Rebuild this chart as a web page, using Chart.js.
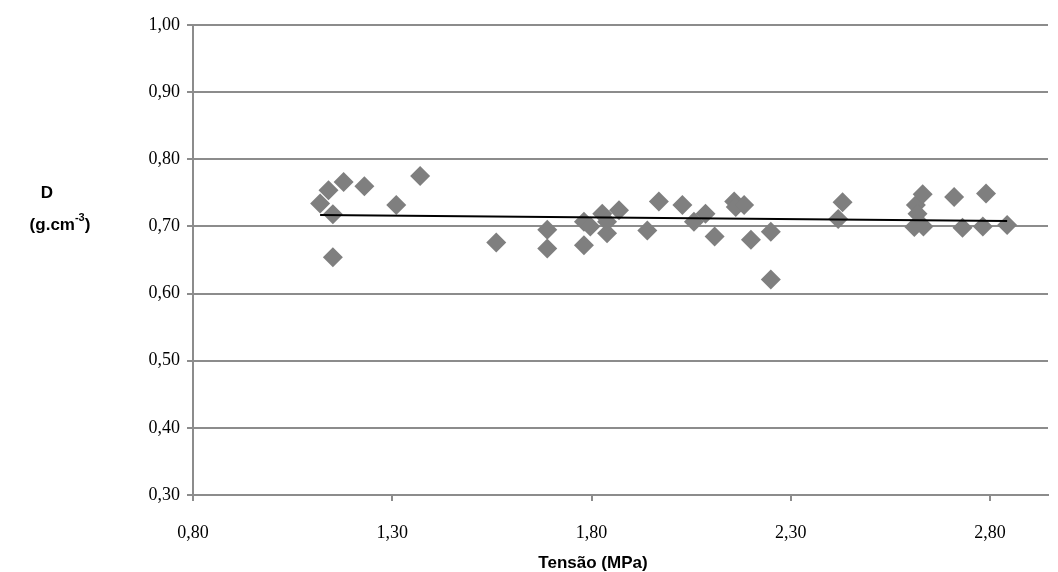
<!DOCTYPE html>
<html>
<head>
<meta charset="utf-8">
<script src="https://cdn.jsdelivr.net/npm/chart.js@4/dist/chart.umd.min.js"></script>
<style>
  html, body { margin: 0; padding: 0; background: #ffffff; overflow: hidden; }
  #wrap { width: 1058px; height: 572px; position: relative; }
  #c { display: block; }
</style>
</head>
<body>
<div id="wrap"><canvas id="c" width="1058" height="572"></canvas></div>
<script>
// Data
const xValues = [1.119, 1.140, 1.178, 1.230, 1.151, 1.151, 1.310, 1.370, 1.561, 1.689,
                 1.689, 1.781, 1.781, 1.797, 1.827, 1.839, 1.839, 1.869, 1.940, 1.969,
                 2.028, 2.057, 2.086, 2.109, 2.158, 2.162, 2.183, 2.200, 2.250, 2.250,
                 2.419, 2.430, 2.610, 2.614, 2.618, 2.631, 2.633, 2.710, 2.731, 2.782,
                 2.790, 2.843];
const yValues = [0.734, 0.754, 0.766, 0.760, 0.718, 0.654, 0.732, 0.775, 0.676, 0.695,
                 0.667, 0.707, 0.672, 0.700, 0.719, 0.690, 0.707, 0.724, 0.694, 0.737,
                 0.732, 0.707, 0.719, 0.685, 0.737, 0.729, 0.732, 0.680, 0.692, 0.621,
                 0.711, 0.736, 0.699, 0.732, 0.719, 0.748, 0.700, 0.744, 0.698, 0.700,
                 0.749, 0.702];
const trendX = [1.119, 2.843];
const trendY = [0.717, 0.708];
const xTicks = [0.80, 1.30, 1.80, 2.30, 2.80];
const yTicks = [0.30, 0.40, 0.50, 0.60, 0.70, 0.80, 0.90, 1.00];
const xTitle = 'Tensão (MPa)';
const yTitleLine1 = 'D';

const scatterPts = xValues.map((x, i) => ({ x: x, y: yValues[i] }));
const trendPts = trendX.map((x, i) => ({ x: x, y: trendY[i] }));
const fmt = v => Number(v).toFixed(2).replace('.', ',');
const GRID = '#8c8c8c';

const titlePlugin = {
  id: 'titles',
  afterDraw(chart) {
    const ctx = chart.ctx;
    ctx.save();
    ctx.fillStyle = '#000';
    ctx.textBaseline = 'middle';
    ctx.textAlign = 'center';
    ctx.font = 'bold 17px "Liberation Sans", Arial, sans-serif';
    ctx.fillText(xTitle, 593, 563);
    ctx.fillText(yTitleLine1, 47, 193);
    const a = '(g.cm', sup = '-3', b = ')';
    ctx.font = 'bold 17px "Liberation Sans", Arial, sans-serif';
    const wa = ctx.measureText(a).width, wb = ctx.measureText(b).width;
    ctx.font = 'bold 11px "Liberation Sans", Arial, sans-serif';
    const ws = ctx.measureText(sup).width;
    let x = 60 - (wa + ws + wb) / 2;
    ctx.textAlign = 'left';
    ctx.font = 'bold 17px "Liberation Sans", Arial, sans-serif';
    ctx.fillText(a, x, 225);
    x += wa;
    ctx.font = 'bold 11px "Liberation Sans", Arial, sans-serif';
    ctx.fillText(sup, x, 218);
    x += ws;
    ctx.font = 'bold 17px "Liberation Sans", Arial, sans-serif';
    ctx.fillText(b, x, 225);
    ctx.restore();
  }
};

new Chart(document.getElementById('c'), {
  type: 'scatter',
  data: {
    datasets: [
      {
        type: 'line',
        data: trendPts,
        borderColor: '#000000',
        borderWidth: 2,
        pointRadius: 0,
        fill: false,
        order: 0
      },
      {
        data: scatterPts,
        pointStyle: 'rectRot',
        pointRadius: 10,
        pointHoverRadius: 10,
        backgroundColor: '#7f7f7f',
        borderColor: '#7f7f7f',
        borderWidth: 0,
        order: 1
      }
    ]
  },
  options: {
    responsive: false,
    animation: false,
    devicePixelRatio: 1,
    layout: { padding: { left: 0, right: 3, top: 25, bottom: 0 } },
    plugins: { legend: { display: false }, tooltip: { enabled: false } },
    scales: {
      x: {
        type: 'linear',
        min: 0.80,
        max: 2.9455,
        afterBuildTicks: axis => { axis.ticks = xTicks.map(v => ({ value: v })); },
        afterFit: axis => { axis.height = 77; axis.paddingLeft = 0; axis.paddingRight = 0; },
        ticks: {
          callback: v => fmt(v),
          color: '#000',
          padding: 21,
          maxRotation: 0,
          font: { family: '"Liberation Serif", "Times New Roman", serif', size: 18 }
        },
        grid: { drawOnChartArea: false, drawTicks: true, tickLength: 6, color: GRID, lineWidth: 2 },
        border: { display: true, color: GRID, width: 2 }
      },
      y: {
        type: 'linear',
        min: 0.30,
        max: 1.00,
        afterBuildTicks: axis => { axis.ticks = yTicks.map(v => ({ value: v })); },
        afterFit: axis => { axis.width = 193; axis.paddingTop = 0; axis.paddingBottom = 0; },
        ticks: {
          callback: v => fmt(v),
          color: '#000',
          padding: 7,
          font: { family: '"Liberation Serif", "Times New Roman", serif', size: 18 }
        },
        grid: { drawOnChartArea: true, drawTicks: true, tickLength: 6, color: GRID, lineWidth: 2 },
        border: { display: true, color: GRID, width: 2 }
      }
    }
  },
  plugins: [titlePlugin]
});
</script>
</body>
</html>
